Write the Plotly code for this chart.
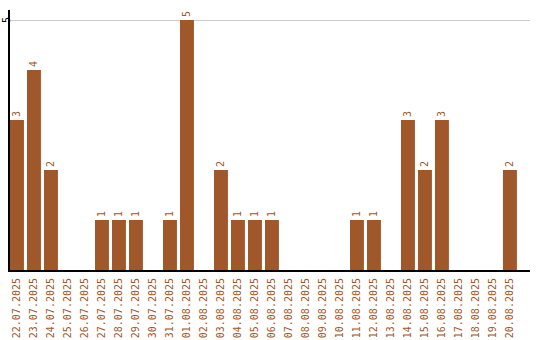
import plotly.graph_objects as go

dates = ["22.07.2025","23.07.2025","24.07.2025","25.07.2025","26.07.2025","27.07.2025",
         "28.07.2025","29.07.2025","30.07.2025","31.07.2025","01.08.2025","02.08.2025",
         "03.08.2025","04.08.2025","05.08.2025","06.08.2025","07.08.2025","08.08.2025",
         "09.08.2025","10.08.2025","11.08.2025","12.08.2025","13.08.2025","14.08.2025",
         "15.08.2025","16.08.2025","17.08.2025","18.08.2025","19.08.2025","20.08.2025"]
counts = [3,4,2,0,0,1,1,1,0,1,5,0,2,1,1,1,0,0,0,0,1,1,0,3,2,3,0,0,0,2]
y_ticks = [5]

color = "#A0572A"
labels = [str(v) if v else "" for v in counts]

fig = go.Figure(go.Bar(
    x=list(range(len(dates))), y=counts, marker_color=color, marker_line_width=0,
    text=labels, textposition="outside", textangle=-90, cliponaxis=False,
    textfont=dict(family="DejaVu Sans Mono", size=10, color=color),
))
fig.update_layout(
    width=540, height=340, margin=dict(l=10, r=10, t=10, b=70),
    paper_bgcolor="white", plot_bgcolor="white", bargap=0.18, showlegend=False,
)
fig.update_xaxes(range=[-0.41, 30.18], tickmode="array", tickvals=list(range(len(dates))),
                 ticktext=dates, tickangle=-90, showline=True, linecolor="black", linewidth=2,
                 showgrid=False, ticks="", zeroline=False, automargin=False,
                 ticklabelstandoff=2,
                 tickfont=dict(family="DejaVu Sans Mono", size=10, color=color))
fig.update_yaxes(range=[0, 5.2], tickvals=y_ticks, showticklabels=False,
                 showline=True, linecolor="black", linewidth=2, showgrid=True,
                 gridcolor="#cccccc", gridwidth=1, zeroline=False, ticks="",
                 automargin=False)
for t in y_ticks:
    fig.add_annotation(x=0, xref="paper", y=t, yref="y", text=str(t), showarrow=False,
                       textangle=-90, xanchor="center", yanchor="middle", xshift=-4,
                       borderpad=0,
                       font=dict(family="DejaVu Sans Mono", size=10, color="black"))
fig.write_html("out.html")
